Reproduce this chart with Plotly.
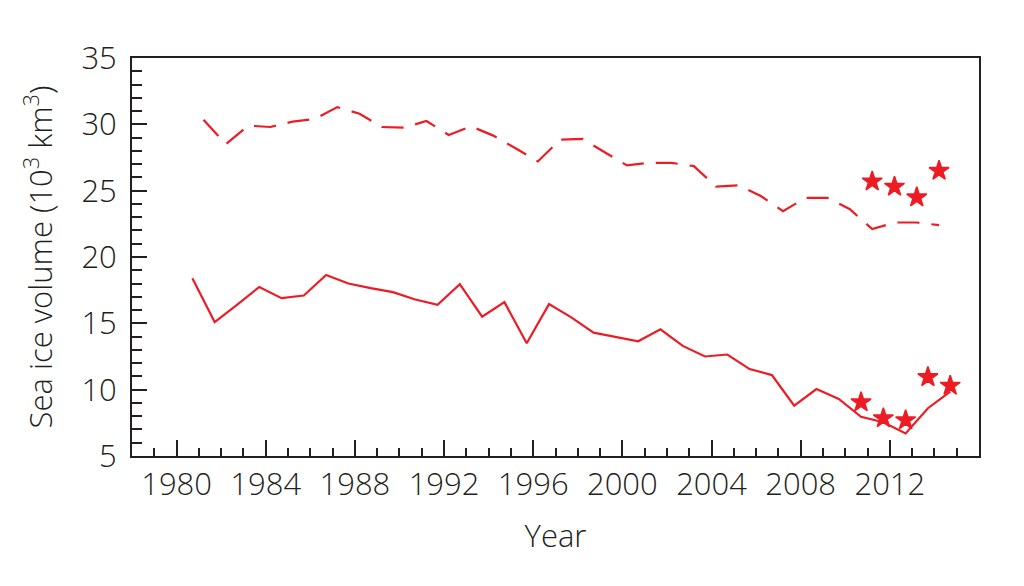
import plotly.graph_objects as go

# ---- data ----
years_sep_model = list(range(1980, 2015))
vol_sep_model = [18.4, 15.1, 16.4, 17.74, 16.9, 17.1, 18.65, 18.0, 17.65, 17.35,
                 16.8, 16.4, 17.95, 15.5, 16.6, 13.5, 16.45, 15.45, 14.3, 14.0,
                 13.65, 14.55, 13.3, 12.5, 12.65, 11.55, 11.1, 8.8, 10.05, 9.3,
                 7.95, 7.55, 6.7, 8.6, 9.85]

years_mar_model = list(range(1981, 2015))
vol_mar_model = [30.34, 28.5, 29.9, 29.8, 30.2, 30.4, 31.3, 30.8, 29.8, 29.75,
                 30.25, 29.2, 29.85, 29.15, 28.2, 27.2, 28.85, 28.9, 27.9, 26.9,
                 27.1, 27.1, 26.85, 25.3, 25.4, 24.6, 23.45, 24.45, 24.45, 23.6,
                 22.1, 22.6, 22.6, 22.4]

years_sep_obs = [2010, 2011, 2012, 2013, 2014]
vol_sep_obs = [9.05, 7.85, 7.7, 10.95, 10.3]

years_mar_obs = [2011, 2012, 2013, 2014]
vol_mar_obs = [25.7, 25.3, 24.5, 26.5]

x_tick_years = [1980, 1984, 1988, 1992, 1996, 2000, 2004, 2008, 2012]

# month-centre offsets within a year (mid-March, mid-September)
MAR = 2.5 / 12
SEP = 8.5 / 12

RED = "#ED1C24"
INK = "#231F20"
FONT = "Open Sans"
FS = 31

fig = go.Figure()

fig.add_trace(go.Scatter(
    x=[y + SEP for y in years_sep_model], y=vol_sep_model,
    mode="lines", line=dict(color=RED, width=2.2), showlegend=False))

fig.add_trace(go.Scatter(
    x=[y + MAR for y in years_mar_model], y=vol_mar_model,
    mode="lines", line=dict(color=RED, width=2.2, dash="22px,12px"), showlegend=False))

star = dict(symbol="star", size=15, color=RED, line=dict(color=RED, width=1.5))

fig.add_trace(go.Scatter(
    x=[y + SEP for y in years_sep_obs], y=vol_sep_obs,
    mode="markers", marker=star, showlegend=False))

fig.add_trace(go.Scatter(
    x=[y + MAR for y in years_mar_obs], y=vol_mar_obs,
    mode="markers", marker=star, showlegend=False))

axis_common = dict(
    showgrid=False, zeroline=False, showline=True, linecolor=INK, linewidth=2,
    mirror=True, ticks="inside", tickcolor=INK, tickwidth=1.6,
    tickfont=dict(family=FONT, size=FS, color=INK, weight=300),
)

fig.update_xaxes(
    **axis_common, range=[1978, 2016], tickmode="array", tickvals=x_tick_years,
    ticklen=16, ticklabelstandoff=0,
    minor=dict(ticks="inside", ticklen=8, dtick=1, tick0=1978, tickcolor=INK, tickwidth=1.6),
    title=dict(text="Year", font=dict(family=FONT, size=FS, color=INK, weight=300), standoff=22),
)

fig.update_yaxes(
    **axis_common, range=[5, 35], tickmode="linear", tick0=5, dtick=5,
    ticklen=15, ticklabelstandoff=7,
    minor=dict(ticks="inside", ticklen=10, dtick=1, tick0=5, tickcolor=INK, tickwidth=1.6),
    title=dict(text="Sea ice volume (10<sup>3</sup> km<sup>3</sup>)",
               font=dict(family=FONT, size=FS, color=INK, weight=300), standoff=20),
)

# the page body adds an 8px margin; size the figure so the plot area lands
# where the reference's does
fig.update_layout(
    width=1016, height=578,
    margin=dict(l=124, r=45, t=50, b=130),
    paper_bgcolor="white", plot_bgcolor="white",
)

fig.write_html("out.html")
